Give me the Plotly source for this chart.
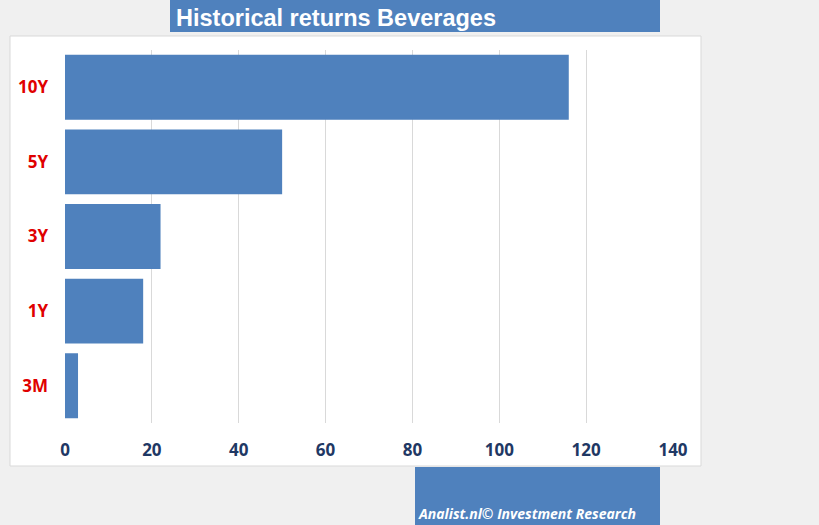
import plotly.graph_objects as go

periods = ["10Y", "5Y", "3Y", "1Y", "3M"]
returns = [116, 50, 22, 18, 3]
x_ticks = [0, 20, 40, 60, 80, 100, 120, 140]

BLUE = "#4f81bd"

fig = go.Figure()
fig.add_trace(go.Bar(
    y=periods,
    x=returns,
    orientation="h",
    marker=dict(color=BLUE, line=dict(width=0)),
    hovertemplate="%{y}: %{x}<extra></extra>",
))

# white chart box and the two blue banners
fig.add_shape(type="rect", xref="paper", yref="paper",
              x0=(10 - 65) / 608, x1=(701 - 65) / 608,
              y0=(525 - 102 - 466) / 373, y1=(525 - 102 - 36) / 373,
              fillcolor="white", line=dict(color="#d9d9d9", width=1), layer="below")
fig.add_shape(type="rect", xref="paper", yref="paper",
              x0=(170 - 65) / 608, x1=(660 - 65) / 608,
              y0=(525 - 102 - 32) / 373, y1=(525 - 102 + 5) / 373,
              fillcolor=BLUE, line=dict(width=0), layer="below")
fig.add_shape(type="rect", xref="paper", yref="paper",
              x0=(415 - 65) / 608, x1=(660 - 65) / 608,
              y0=(525 - 102 - 530) / 373, y1=(525 - 102 - 467) / 373,
              fillcolor=BLUE, line=dict(width=0), layer="below")

fig.add_annotation(text="<b>Historical returns Beverages</b>", xref="paper", yref="paper",
                   x=(174 - 65) / 608, y=(525 - 102 - 18) / 373, xanchor="left", yanchor="middle",
                   showarrow=False, font=dict(family="Liberation Sans, Arial", size=23.5, color="white"))
fig.add_annotation(text="<b><i>Analist.nl© Investment Research</i></b>", xref="paper", yref="paper",
                   x=(416 - 65) / 608, y=(525 - 102 - 513) / 373, xanchor="left", yanchor="middle",
                   showarrow=False, font=dict(family="Open Sans, Liberation Sans", size=14, color="white"))

fig.update_layout(
    width=819, height=525,
    paper_bgcolor="#f0f0f0",
    plot_bgcolor="white",
    margin=dict(l=65, r=146, t=50, b=102),
    bargap=0.13,
    showlegend=False,
    xaxis=dict(
        range=[0, 140], tickvals=x_ticks, showgrid=True, gridcolor="#d9d9d9", gridwidth=1,
        zeroline=False, showline=False, ticks="", ticklabelstandoff=15,
        tickfont=dict(family="Open Sans, Liberation Sans", size=17, color="#1f3864", weight="bold"),
        fixedrange=True,
    ),
    yaxis=dict(
        categoryorder="array", categoryarray=periods[::-1], autorange=True,
        showgrid=False, zeroline=False, showline=False, ticks="", ticklabelstandoff=16,
        tickfont=dict(family="Open Sans, Liberation Sans", size=17, color="#e00000", weight="bold"),
        fixedrange=True,
    ),
)

fig.write_html("out.html", config={"displayModeBar": False},
               post_script="document.body.style.margin='0';")
